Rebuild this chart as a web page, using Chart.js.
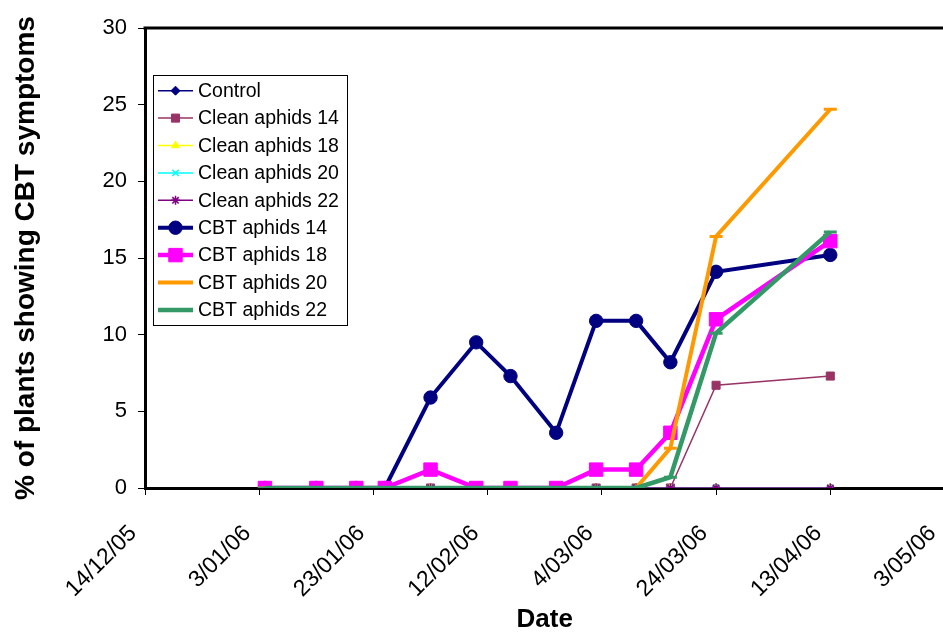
<!DOCTYPE html>
<html>
<head>
<meta charset="utf-8">
<script src="https://cdn.jsdelivr.net/npm/chart.js@4.4.1/dist/chart.umd.min.js"></script>
<style>
  html, body { margin: 0; padding: 0; background: #fff; overflow: hidden; }
  #wrap { width: 955px; height: 635px; }
</style>
</head>
<body>
<div id="wrap"><canvas id="c" width="955" height="635"></canvas></div>
<script>
// Survey dates (dd/mm/yy) and % of plants showing CBT symptoms
const cbtDates = ['4/01/06', '13/01/06', '20/01/06', '25/01/06', '2/02/06', '10/02/06', '16/02/06',
                  '24/02/06', '3/03/06', '10/03/06', '16/03/06', '24/03/06', '13/04/06'];
const cleanDates = ['2/02/06', '10/02/06', '16/02/06', '24/02/06', '3/03/06', '10/03/06', '16/03/06',
                    '24/03/06', '13/04/06'];

const control  = [0, 0, 0, 0, 0, 0, 0, 0, 0];
const clean14  = [0, 0, 0, 0, 0, 0, 0, 6.7, 7.3];
const clean18  = [0, 0, 0, 0, 0, 0, 0, 0, 0];
const clean20  = [0, 0, 0, 0, 0, 0, 0, 0, 0];
const clean22  = [0, 0, 0, 0, 0, 0, 0, 0, 0];
const cbt14    = [0, 0, 0, 0, 5.9, 9.5, 7.3, 3.6, 10.9, 10.9, 8.2, 14.1, 15.2];
const cbt18    = [0, 0, 0, 0, 1.2, 0, 0, 0, 1.2, 1.2, 3.6, 11.0, 16.1];
const cbt20    = [0, 0, 0, 0, 0, 0, 0, 0, 0, 0, 2.6, 16.4, 24.7];
const cbt22    = [0, 0, 0, 0, 0, 0, 0, 0, 0, 0, 0.7, 10.1, 16.7];

const xTickLabels = ['14/12/05', '3/01/06', '23/01/06', '12/02/06', '4/03/06', '24/03/06', '13/04/06', '3/05/06'];
const yTicks = [0, 5, 10, 15, 20, 25, 30];

// Day offsets from the first axis date (14/12/05)
const ORIGIN = Date.UTC(2005, 11, 14);
function dayOf(s) {
  const [d, m, y] = s.split('/').map(Number);
  return Math.round((Date.UTC(2000 + y, m - 1, d) - ORIGIN) / 86400000);
}
function pts(dates, vals) { return dates.map((d, i) => ({ x: dayOf(d), y: vals[i] })); }

const FONT = "'Liberation Sans', Arial, Helvetica, sans-serif";

const series = [
  { label: 'Control',         dates: cleanDates, vals: control, color: '#000080', width: 1.5, style: 'rectRot', r: 4.5, fill: true },
  { label: 'Clean aphids 14', dates: cleanDates, vals: clean14, color: '#993366', width: 1.5, style: 'rect',    r: 5.7, fill: true },
  { label: 'Clean aphids 18', dates: cleanDates, vals: clean18, color: '#FFFF00', width: 1.5, style: 'triangle',r: 4.5, fill: true },
  { label: 'Clean aphids 20', dates: cleanDates, vals: clean20, color: '#00FFFF', width: 1.5, style: 'crossRot',r: 4.5, fill: false },
  { label: 'Clean aphids 22', dates: cleanDates, vals: clean22, color: '#800080', width: 1.5, style: 'star',    r: 4.5, fill: false },
  { label: 'CBT aphids 14',   dates: cbtDates,   vals: cbt14,   color: '#000080', width: 4,   style: 'circle',  r: 6.7, fill: true },
  { label: 'CBT aphids 18',   dates: cbtDates,   vals: cbt18,   color: '#FF00FF', width: 4.5, style: 'rect',    r: 9.5, fill: true },
  { label: 'CBT aphids 20',   dates: cbtDates,   vals: cbt20,   color: '#FF9900', width: 4,   style: 'line',    r: 6.5, fill: false },
  { label: 'CBT aphids 22',   dates: cbtDates,   vals: cbt22,   color: '#339966', width: 4.5, style: 'line',    r: 6.5, fill: false }
];

const datasets = series.map((s, i) => ({
  label: s.label,
  data: pts(s.dates, s.vals),
  borderColor: s.color,
  backgroundColor: s.color,
  borderWidth: s.width,
  pointStyle: s.style,
  pointRadius: s.r,
  pointHoverRadius: s.r,
  pointBorderWidth: s.fill ? 1 : (s.style === 'line' ? 3 : 1.5),
  pointBackgroundColor: s.color,
  pointBorderColor: s.color,
  tension: 0,
  order: series.length - i   // later series drawn on top
}));

// Plot frame (top edge) and the boxed legend with line + marker samples
const framePlugin = {
  id: 'frameAndLegend',
  afterDraw(chart) {
    const ctx = chart.ctx;
    const a = chart.chartArea;
    ctx.save();
    ctx.strokeStyle = '#000';
    ctx.lineWidth = 3;
    ctx.beginPath();
    ctx.moveTo(a.left - 1.5, a.top);
    ctx.lineTo(a.right, a.top);
    ctx.lineTo(a.right, a.bottom);
    ctx.stroke();

    const bx = 153.5, by = 75.5, bw = 194, bh = 250;
    ctx.fillStyle = '#fff';
    ctx.fillRect(bx, by, bw, bh);
    ctx.lineWidth = 1;
    ctx.strokeStyle = '#000';
    ctx.strokeRect(bx, by, bw, bh);

    const rowY0 = 90.7, rowStep = 27.4;
    ctx.font = '19.5px ' + FONT;
    ctx.textBaseline = 'middle';
    ctx.textAlign = 'left';
    series.forEach((s, i) => {
      const y = rowY0 + i * rowStep;
      ctx.strokeStyle = s.color;
      ctx.lineWidth = s.width;
      ctx.beginPath();
      ctx.moveTo(158, y);
      ctx.lineTo(193, y);
      ctx.stroke();
      const ds = datasets[i];
      const opts = {
        pointStyle: s.style, radius: s.r, rotation: 0,
        borderWidth: ds.pointBorderWidth
      };
      ctx.fillStyle = s.color;
      ctx.strokeStyle = s.color;
      ctx.lineWidth = ds.pointBorderWidth;
      if (Chart.helpers && Chart.helpers.drawPoint) {
        Chart.helpers.drawPoint(ctx, opts, 175.5, y);
      }
      ctx.fillStyle = '#000';
      ctx.fillText(s.label, 198, y + 1);
    });
    ctx.restore();
  }
};

new Chart(document.getElementById('c'), {
  type: 'line',
  data: { datasets },
  plugins: [framePlugin],
  options: {
    responsive: false,
    animation: false,
    events: [],
    layout: { padding: { top: 28, left: 0, right: 0, bottom: 0 } },
    plugins: { legend: { display: false }, tooltip: { enabled: false } },
    scales: {
      x: {
        type: 'linear',
        min: 0,
        max: 140,
        afterBuildTicks(scale) {
          scale.ticks = xTickLabels.map((_, i) => ({ value: i * 20 }));
        },
        afterFit(scale) {
          scale.height = 147;
          scale.paddingRight = 0;
          scale.paddingLeft = 0;
        },
        grid: { display: true, drawOnChartArea: false, drawTicks: true, tickLength: 7, color: '#000', lineWidth: 1 },
        border: { display: true, color: '#000', width: 3 },
        ticks: {
          autoSkip: false,
          minRotation: 45,
          maxRotation: 45,
          padding: 25,
          labelOffset: -12,
          color: '#000',
          font: { family: FONT, size: 23 },
          callback: (v, i) => xTickLabels[i]
        },
        title: {
          display: true,
          text: 'Date',
          color: '#000',
          font: { family: FONT, size: 26, weight: 'bold' },
          padding: { top: 0, bottom: 0 }
        }
      },
      y: {
        type: 'linear',
        min: 0,
        max: 30,
        afterBuildTicks(scale) {
          scale.ticks = yTicks.map(v => ({ value: v }));
        },
        afterFit(scale) { scale.width = 145; },
        grid: { display: true, drawOnChartArea: false, drawTicks: true, tickLength: 7, color: '#000', lineWidth: 1 },
        border: { display: true, color: '#000', width: 3 },
        ticks: {
          padding: 11,
          color: '#000',
          font: { family: FONT, size: 22 }
        },
        title: {
          display: true,
          text: '% of plants showing CBT symptoms',
          color: '#000',
          font: { family: FONT, size: 28, weight: 'bold' },
          padding: { top: 9, bottom: 0 }
        }
      }
    }
  }
});
</script>
</body>
</html>
